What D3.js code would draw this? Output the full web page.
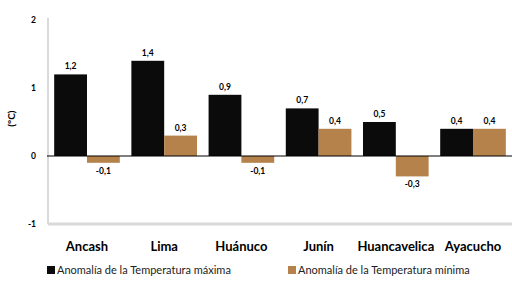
<!DOCTYPE html>
<html>
<head>
<meta charset="utf-8">
<script src="https://cdn.jsdelivr.net/npm/d3@7"></script>
<style>
  body { margin: 0; background: #fff; }
  svg { display: block; font-family: Lato, "Open Sans", sans-serif; }
</style>
</head>
<body>
<svg id="chart" width="512" height="282"></svg>
<script>
// data
const regions = ["Ancash", "Lima", "Huánuco", "Junín", "Huancavelica", "Ayacucho"];
const tmax = [1.2, 1.4, 0.9, 0.7, 0.5, 0.4];
const tmin = [-0.1, 0.3, -0.1, 0.4, -0.3, 0.4];
const seriesNames = ["Anomalía de la Temperatura máxima", "Anomalía de la Temperatura mínima"];
const yTicks = [-1, 0, 1, 2];

const colors = ["#0b0b0b", "#b4824a"];
const fmt = (v) => String(v).replace(".", ",");

const svg = d3.select("#chart");
const plotL = 48, plotR = 512, plotT = 20, plotB = 224;

const x = d3.scaleBand().domain(regions).range([plotL, plotR]).paddingInner(0.15).paddingOuter(0.08);
const xs = d3.scaleBand().domain([0, 1]).range([0, x.bandwidth()]);
const y = d3.scaleLinear().domain([-1, 2]).range([plotB, plotT]);

// axis lines (gray frame)
svg.append("line")
  .attr("x1", plotL).attr("x2", plotL).attr("y1", plotT - 2).attr("y2", plotB)
  .attr("stroke", "#d9d9d9").attr("stroke-width", 2);
svg.append("line")
  .attr("x1", plotL).attr("x2", plotR).attr("y1", plotB).attr("y2", plotB)
  .attr("stroke", "#d9d9d9").attr("stroke-width", 3);

// y tick labels
svg.append("g").selectAll("text").data(yTicks).join("text")
  .attr("x", 36).attr("y", (d) => y(d)).attr("dy", "0.35em")
  .attr("text-anchor", "end").attr("font-size", 8.5).attr("font-weight", "bold")
  .text((d) => d);

svg.append("text")
  .attr("transform", `translate(15,${y(0.55)}) rotate(-90)`)
  .attr("text-anchor", "middle").attr("font-size", 10).attr("font-weight", "bold")
  .text("(°C)");

const rows = regions.map((r, i) => ({ r, vals: [tmax[i], tmin[i]] }));

const groups = svg.append("g").selectAll("g").data(rows).join("g")
  .attr("transform", (d) => `translate(${x(d.r)},0)`);

groups.selectAll("rect").data((d) => d.vals).join("rect")
  .attr("x", (d, i) => xs(i)).attr("width", xs.bandwidth())
  .attr("y", (d) => y(Math.max(0, d)))
  .attr("height", (d) => Math.abs(y(d) - y(0)))
  .attr("fill", (d, i) => colors[i]);

groups.selectAll("text").data((d) => d.vals).join("text")
  .attr("x", (d, i) => xs(i) + xs.bandwidth() / 2)
  .attr("y", (d) => d >= 0 ? y(d) - 5 : y(d) + 11)
  .attr("text-anchor", "middle").attr("font-size", 8.5).attr("font-weight", "bold")
  .text((d) => fmt(d));

// zero line
svg.append("line")
  .attr("x1", plotL - 1).attr("x2", plotR).attr("y1", y(0)).attr("y2", y(0))
  .attr("stroke", "#000").attr("stroke-width", 1.2);

// category labels
svg.append("g").selectAll("text").data(regions).join("text")
  .attr("x", (d) => x(d) + x.bandwidth() / 2).attr("y", 251)
  .attr("text-anchor", "middle").attr("font-size", 13).attr("font-weight", "bold")
  .text((d) => d);

// legend
const legX = [47, 288];
const leg = svg.append("g").selectAll("g").data(seriesNames).join("g")
  .attr("transform", (d, i) => `translate(${legX[i]},266)`);
leg.append("rect").attr("width", 8).attr("height", 8).attr("fill", (d, i) => colors[i]);
leg.append("text").attr("x", 10).attr("y", 8).attr("font-size", 11).attr("fill", "#222")
  .text((d) => d);
</script>
</body>
</html>
